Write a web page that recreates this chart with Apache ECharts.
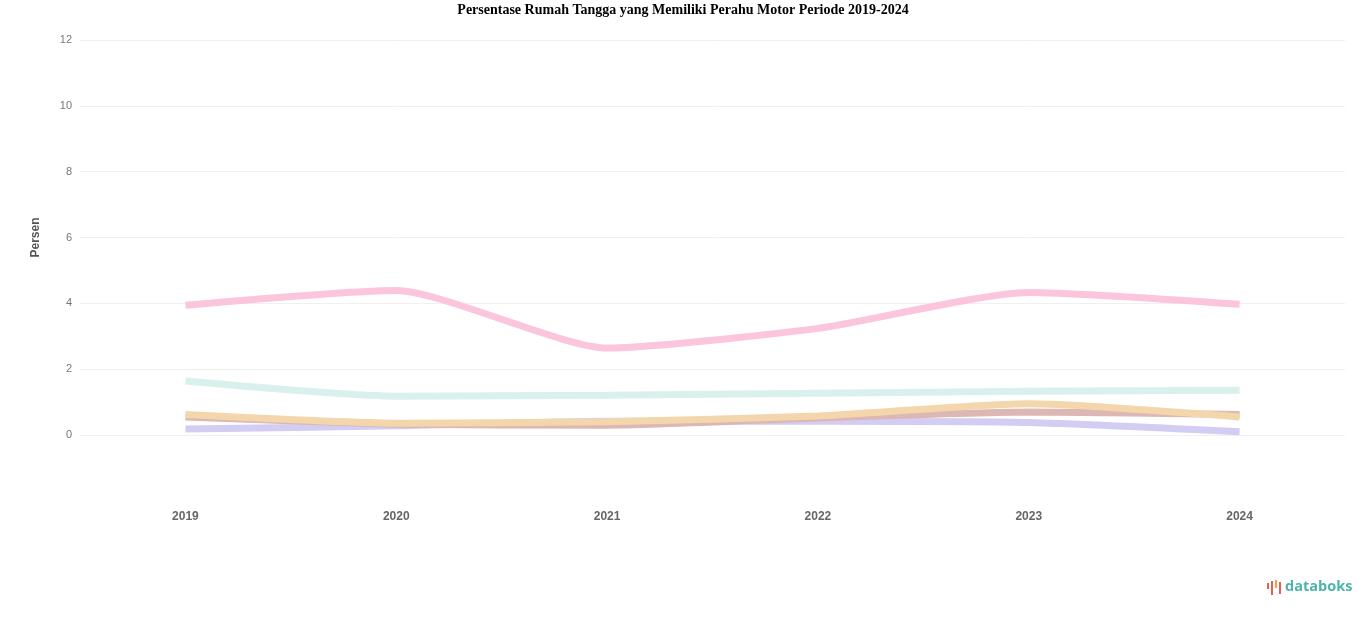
<!DOCTYPE html>
<html>
<head>
<meta charset="utf-8">
<title>Persentase Rumah Tangga yang Memiliki Perahu Motor</title>
<script src="https://cdn.jsdelivr.net/npm/echarts@6/dist/echarts.min.js"></script>
<style>
    html, body { margin: 0; padding: 0; background: #fff; }
    #main { width: 1366px; height: 617px; }
</style>
</head>
<body>
<div id="main"></div>
<script>
// data (perkiraan)
var years = ['2019', '2020', '2021', '2022', '2023', '2024'];
var seriesPink = [3.94, 4.39, 2.64, 3.24, 4.33, 3.97];
var seriesTeal = [1.64, 1.18, 1.21, 1.27, 1.33, 1.36];
var seriesOrange = [0.62, 0.36, 0.40, 0.58, 0.95, 0.55];
var seriesBrown = [0.55, 0.33, 0.30, 0.52, 0.70, 0.62];
var seriesPurple = [0.18, 0.28, 0.42, 0.42, 0.38, 0.10];
var yTicks = [0, 2, 4, 6, 8, 10, 12];

var chartDom = document.getElementById('main');
var myChart = echarts.init(chartDom);
var option;

function line(data, color) {
    return {
        type: 'line',
        data: data,
        smooth: 0.2,
        symbol: 'none',
        lineStyle: { width: 7, color: color },
        itemStyle: { color: color }
    };
}

option = {
    animation: false,
    title: {
        text: 'Persentase Rumah Tangga yang Memiliki Perahu Motor Periode 2019-2024',
        left: 'center',
        top: -2,
        textStyle: {
            fontFamily: 'Liberation Serif',
            fontSize: 14,
            fontWeight: 'bold',
            color: '#000'
        }
    },
    grid: { left: 80, right: 21, top: 40, bottom: 182 },
    xAxis: {
        type: 'category',
        data: years,
        boundaryGap: true,
        axisLine: { show: false },
        axisTick: { show: false },
        axisLabel: { margin: 76, color: '#666', fontSize: 12, fontWeight: 'bold' }
    },
    yAxis: {
        type: 'value',
        min: yTicks[0],
        max: yTicks[yTicks.length - 1],
        interval: 2,
        name: 'Persen',
        nameLocation: 'middle',
        nameGap: 38,
        nameRotate: 90,
        nameTextStyle: { color: '#555', fontSize: 12, fontWeight: 'bold' },
        axisLine: { show: false },
        axisTick: { show: false },
        axisLabel: { color: '#777', fontSize: 11, margin: 8 },
        splitLine: { lineStyle: { color: '#f0f0f0', width: 1 } }
    },
    series: [
        line(seriesTeal, '#d9f1ec'),
        line(seriesPurple, '#d4cdf3'),
        line(seriesBrown, '#dcb7b3'),
        line(seriesOrange, '#f3d6ab'),
        line(seriesPink, '#fbc6dc')
    ],
    graphic: [
        { type: 'rect', left: 1267, top: 583, shape: { width: 2, height: 6 }, style: { fill: '#e8604c' } },
        { type: 'rect', left: 1271, top: 581, shape: { width: 2, height: 14 }, style: { fill: '#e8604c' } },
        { type: 'rect', left: 1275, top: 580, shape: { width: 2, height: 8 }, style: { fill: '#f0a04b' } },
        { type: 'rect', left: 1279, top: 582, shape: { width: 2, height: 12 }, style: { fill: '#e8604c' } },
        {
            type: 'text', left: 1285, top: 579,
            style: { text: 'databoks', fill: '#4cb3ad', font: 'bold 14.5px "Open Sans"' }
        }
    ]
};

option && myChart.setOption(option);
</script>
</body>
</html>
